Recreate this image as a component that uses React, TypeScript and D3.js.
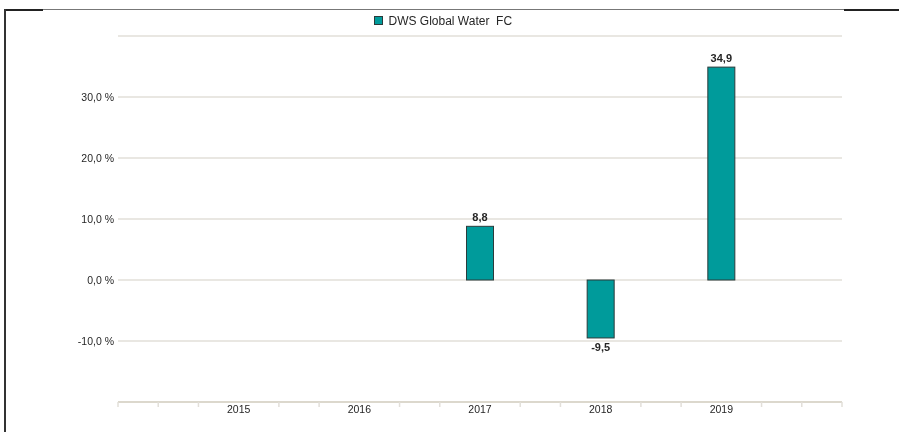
import { useEffect, useRef } from "react";
import * as d3 from "d3";

const years = ["2015", "2016", "2017", "2018", "2019"];
const returns: (number | null)[] = [null, null, 8.8, -9.5, 34.9];
const gridValues = [-10, 0, 10, 20, 30, 40];
const labelValues = [-10, 0, 10, 20, 30];
const seriesName = "DWS Global Water  FC";

const W = 899;
const H = 432;
const margin = { left: 118, right: 57, top: 36, bottom: 30 };
const barColor = "#009b9b";
const barStroke = "#2b3b3b";
const gridColor = "#e2dfd9";
const textColor = "#262626";
const font = "'Liberation Sans', Arial, sans-serif";

const fmt = (v: number) => d3.format(".1f")(v).replace(".", ",").replace("−", "-");

const App = () => {
  const svgRef = useRef<SVGSVGElement | null>(null);

  useEffect(() => {
    if (!svgRef.current) return;
    const svg = d3.select(svgRef.current);
    svg.selectAll("*").remove();

    const x0 = margin.left;
    const x1 = W - margin.right;
    const y0 = margin.top;
    const y1 = H - margin.bottom;

    const xScale = d3.scalePoint<string>().domain(years).range([x0, x1]).padding(1);
    const yScale = d3.scaleLinear().domain([-20, 40]).range([y1, y0]);
    const step = xScale.step();

    // frame
    svg.append("line").attr("x1", 4).attr("x2", W).attr("y1", 9.5).attr("y2", 9.5)
      .attr("stroke", "#777").attr("stroke-width", 1);
    svg.append("line").attr("x1", 4).attr("x2", 43).attr("y1", 10).attr("y2", 10)
      .attr("stroke", "#222").attr("stroke-width", 2);
    svg.append("line").attr("x1", 844).attr("x2", W).attr("y1", 10).attr("y2", 10)
      .attr("stroke", "#222").attr("stroke-width", 2);
    svg.append("line").attr("x1", 5).attr("x2", 5).attr("y1", 9).attr("y2", H)
      .attr("stroke", "#333").attr("stroke-width", 2);

    // grid lines
    svg.append("g")
      .selectAll("line")
      .data(gridValues)
      .enter()
      .append("line")
      .attr("x1", x0)
      .attr("x2", x1)
      .attr("y1", (d) => yScale(d))
      .attr("y2", (d) => yScale(d))
      .attr("stroke", gridColor)
      .attr("stroke-width", 1.5);

    // y labels
    svg.append("g")
      .selectAll("text")
      .data(labelValues)
      .enter()
      .append("text")
      .attr("x", x0 - 4)
      .attr("y", (d) => yScale(d))
      .attr("dy", "0.35em")
      .attr("text-anchor", "end")
      .attr("font-family", font)
      .attr("font-size", "10.5px")
      .attr("fill", textColor)
      .text((d) => `${fmt(d)} %`);

    // x axis line + minor ticks
    svg.append("line").attr("x1", x0).attr("x2", x1).attr("y1", y1).attr("y2", y1)
      .attr("stroke", "#dcd8cd").attr("stroke-width", 2);
    const tickIdx = d3.range(0, 19).filter((i) => i % 3 !== 0 || i === 0 || i === 18);
    svg.append("g")
      .selectAll("line")
      .data(tickIdx)
      .enter()
      .append("line")
      .attr("x1", (i) => x0 + (i * step) / 3)
      .attr("x2", (i) => x0 + (i * step) / 3)
      .attr("y1", y1)
      .attr("y2", y1 + 5)
      .attr("stroke", gridColor)
      .attr("stroke-width", 1.5);

    svg.append("g")
      .selectAll("text")
      .data(years)
      .enter()
      .append("text")
      .attr("x", (d) => xScale(d) as number)
      .attr("y", y1 + 10.5)
      .attr("text-anchor", "middle")
      .attr("font-family", font)
      .attr("font-size", "10.5px")
      .attr("fill", textColor)
      .text((d) => d);

    // bars
    const data = years
      .map((year, i) => ({ year, value: returns[i] }))
      .filter((d) => d.value !== null) as { year: string; value: number }[];
    const barW = 27;

    svg.append("g")
      .selectAll("rect")
      .data(data)
      .enter()
      .append("rect")
      .attr("x", (d) => (xScale(d.year) as number) - barW / 2)
      .attr("y", (d) => yScale(Math.max(0, d.value)))
      .attr("width", barW)
      .attr("height", (d) => Math.abs(yScale(d.value) - yScale(0)))
      .attr("fill", barColor)
      .attr("stroke", barStroke)
      .attr("stroke-width", 1);

    svg.append("g")
      .selectAll("text")
      .data(data)
      .enter()
      .append("text")
      .attr("x", (d) => xScale(d.year) as number)
      .attr("y", (d) => (d.value >= 0 ? yScale(d.value) - 5 : yScale(d.value) + 13))
      .attr("text-anchor", "middle")
      .attr("font-family", font)
      .attr("font-size", "11px")
      .attr("font-weight", "bold")
      .attr("fill", textColor)
      .text((d) => fmt(d.value));

    // legend
    const legend = svg.append("g").attr("transform", "translate(374.5,16.5)");
    legend.append("rect").attr("width", 8).attr("height", 8)
      .attr("fill", barColor).attr("stroke", barStroke).attr("stroke-width", 1);
    legend.append("text")
      .attr("x", 14)
      .attr("y", 4)
      .attr("dy", "0.35em")
      .attr("font-family", font)
      .attr("font-size", "12px")
      .attr("fill", textColor)
      .style("white-space", "pre")
      .text(seriesName);
  }, []);

  return (
    <div style={{ position: "fixed", left: 0, top: 0 }}>
      <svg ref={svgRef} width={W} height={H} style={{ display: "block" }} />
    </div>
  );
};

export default App;
